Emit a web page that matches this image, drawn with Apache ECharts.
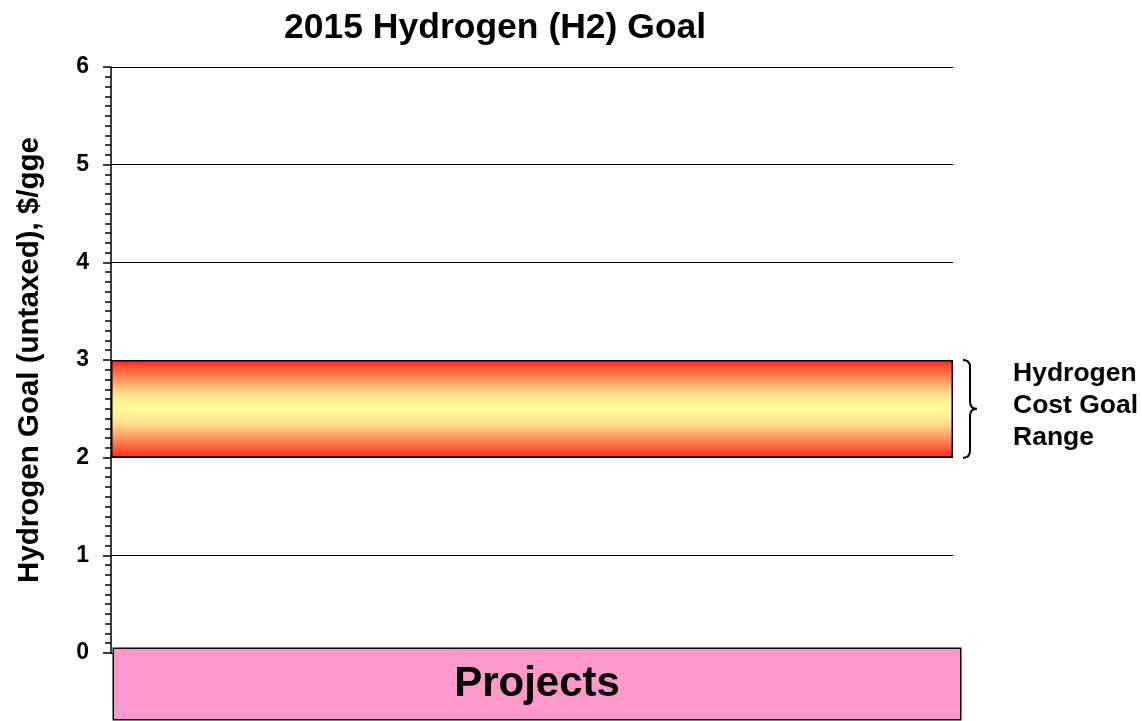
<!DOCTYPE html>
<html>
<head>
<meta charset="utf-8">
<script src="https://cdn.jsdelivr.net/npm/echarts@6/dist/echarts.min.js"></script>
<style>
  html, body { margin: 0; padding: 0; background: #fff; }
  #main { width: 1142px; height: 721px; }
</style>
</head>
<body>
<div id="main"></div>
<script>
// data
var categories = ['Projects'];
var goalLow = [2];
var goalHigh = [3];
var yTicks = [0, 1, 2, 3, 4, 5, 6];
var bandLabel = 'Hydrogen\nCost Goal\nRange';

var FONT = '"Liberation Sans", Arial, sans-serif';
var myChart = echarts.init(document.getElementById('main'));

var bandHeight = goalHigh.map(function (v, i) { return v - goalLow[i]; });

myChart.setOption({
  animation: false,
  title: {
    text: '2015 Hydrogen (H2) Goal',
    left: 279,
    top: 5,
    textStyle: { color: '#000', fontFamily: FONT, fontWeight: 'bold', fontSize: 35.5 }
  },
  grid: [
    { left: 111, right: 189, top: 67, bottom: 68 },
    // second grid only carries the "Projects" label box, which is a bit wider
    { left: 113, right: 181, top: 67, bottom: 68 }
  ],
  xAxis: [
    {
      type: 'category',
      gridIndex: 0,
      data: categories,
      boundaryGap: true,
      axisLine: { show: true, lineStyle: { color: '#000', width: 1 } },
      axisTick: { show: false },
      axisLabel: { show: false }
    },
    {
      type: 'category',
      gridIndex: 1,
      data: categories,
      axisLine: { show: false },
      axisTick: { show: false },
      splitLine: { show: false },
      axisLabel: {
        margin: -4,
        color: '#000',
        fontFamily: FONT,
        fontWeight: 'bold',
        fontSize: 42,
        backgroundColor: '#ff99cc',
        borderColor: '#000',
        borderWidth: 1.5,
        width: 846,
        height: 70,
        lineHeight: 70,
        align: 'center'
      }
    }
  ],
  yAxis: [
    {
      type: 'value',
      gridIndex: 0,
      min: yTicks[0],
      max: yTicks[yTicks.length - 1],
      interval: 1,
      name: 'Hydrogen Goal (untaxed), $/gge',
      nameLocation: 'middle',
      nameGap: 66,
      nameTextStyle: { color: '#000', fontFamily: FONT, fontWeight: 'bold', fontSize: 29.5 },
      axisLine: { show: true, lineStyle: { color: '#000', width: 1.5 } },
      axisTick: { show: true, length: 8, lineStyle: { color: '#000', width: 1.5 } },
      minorTick: { show: true, splitNumber: 10, length: 6, lineStyle: { color: '#000', width: 1.5 } },
      splitLine: { show: true, lineStyle: { color: '#000', width: 1 } },
      axisLabel: { margin: 22, color: '#000', fontFamily: FONT, fontWeight: 'bold', fontSize: 23 }
    },
    { type: 'value', gridIndex: 1, show: false }
  ],
  series: [
    {
      type: 'bar',
      stack: 'goal',
      data: goalLow,
      barWidth: '100%',
      itemStyle: { color: 'transparent' },
      silent: true
    },
    {
      type: 'bar',
      stack: 'goal',
      data: bandHeight,
      barWidth: '100%',
      itemStyle: {
        borderColor: '#000',
        borderWidth: 1.5,
        color: new echarts.graphic.LinearGradient(0, 0, 0, 1, [
          { offset: 0, color: '#ff2a1a' },
          { offset: 0.15, color: '#ff7a50' },
          { offset: 0.35, color: '#ffe08f' },
          { offset: 0.5, color: '#ffff99' },
          { offset: 0.65, color: '#ffe08f' },
          { offset: 0.85, color: '#ff7a50' },
          { offset: 1, color: '#ff2a1a' }
        ])
      }
    },
    {
      // brace + label to the right of the band
      type: 'custom',
      clip: false,
      silent: true,
      data: [[0, goalLow[0], goalHigh[0]]],
      renderItem: function (params, api) {
        var top = api.coord([0, api.value(2)])[1];
        var bot = api.coord([0, api.value(1)])[1];
        var mid = (top + bot) / 2;
        var x0 = params.coordSys.x + params.coordSys.width + 10;
        var r = 7;
        var path = 'M' + x0 + ' ' + top +
          ' Q' + (x0 + r) + ' ' + top + ' ' + (x0 + r) + ' ' + (top + r) +
          ' L' + (x0 + r) + ' ' + (mid - r) +
          ' Q' + (x0 + r) + ' ' + mid + ' ' + (x0 + 2 * r) + ' ' + mid +
          ' Q' + (x0 + r) + ' ' + mid + ' ' + (x0 + r) + ' ' + (mid + r) +
          ' L' + (x0 + r) + ' ' + (bot - r) +
          ' Q' + (x0 + r) + ' ' + bot + ' ' + x0 + ' ' + bot;
        return {
          type: 'group',
          children: [
            {
              type: 'path',
              shape: { pathData: path },
              style: { fill: 'none', stroke: '#000', lineWidth: 2 }
            },
            {
              type: 'text',
              x: x0 + 50,
              y: mid - 3,
              style: {
                text: bandLabel,
                fill: '#000',
                font: 'bold 26.5px ' + FONT,
                lineHeight: 32,
                verticalAlign: 'middle',
                align: 'left'
              }
            }
          ]
        };
      }
    }
  ]
});
</script>
</body>
</html>
